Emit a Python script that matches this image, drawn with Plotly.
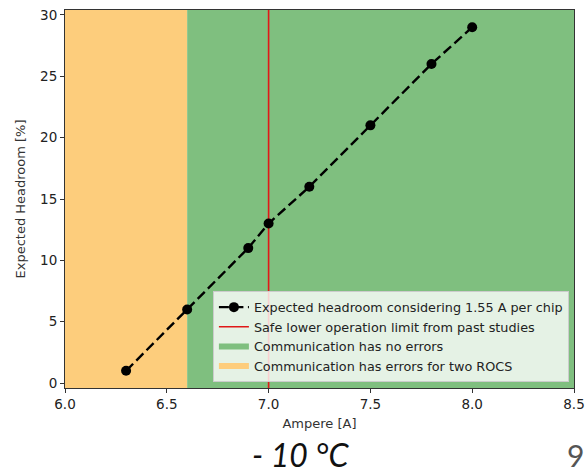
import plotly.graph_objects as go

# Data
ampere = [6.3, 6.6, 6.9, 7.0, 7.2, 7.5, 7.8, 8.0]
headroom = [1, 6, 11, 13, 16, 21, 26, 29]
safe_limit = 7.0
error_span = [6.0, 6.6]
ok_span = [6.6, 8.5]
x_range = [6.0, 8.5]
y_range = [-0.4, 30.4]
x_ticks = [6.0, 6.5, 7.0, 7.5, 8.0, 8.5]
y_ticks = [0, 5, 10, 15, 20, 25, 30]

fig = go.Figure()

def span_trace(span, color, name, rank):
    return go.Scatter(
        x=[span[0], span[1], span[1], span[0], span[0]],
        y=[y_range[0], y_range[0], y_range[1], y_range[1], y_range[0]],
        fill="toself", fillcolor=color, mode="none", name=name,
        legendrank=rank, hoverinfo="skip")

fig.add_trace(span_trace(error_span, "#FDCD7C", "Communication has errors for two ROCS", 4))
fig.add_trace(span_trace(ok_span, "#7FBF7F", "Communication has no errors", 3))

fig.add_trace(go.Scatter(
    x=[safe_limit, safe_limit], y=y_range, mode="lines",
    line=dict(color="#e01818", width=1.6),
    name="Safe lower operation limit from past studies", legendrank=2))

fig.add_trace(go.Scatter(
    x=ampere, y=headroom, mode="lines+markers",
    line=dict(color="black", width=2.4, dash="10px,4.5px"),
    marker=dict(color="black", size=10),
    name="Expected headroom considering 1.55 A per chip", legendrank=1))

axis_common = dict(
    showline=True, linecolor="#333", linewidth=1, mirror=True,
    ticks="outside", ticklen=4, tickcolor="#333", showgrid=False, zeroline=False,
    tickfont=dict(family="DejaVu Sans", size=13.5, color="#222"),
)

fig.update_xaxes(range=x_range, tickvals=x_ticks, ticktext=[f"{v:.1f}" for v in x_ticks],
                 title=dict(text="Ampere [A]", font=dict(family="DejaVu Sans", size=13, color="#333"), standoff=7),
                 **axis_common)
fig.update_yaxes(range=y_range, tickvals=y_ticks,
                 title=dict(text="Expected Headroom [%]", font=dict(family="DejaVu Sans", size=13, color="#333"), standoff=11),
                 **axis_common)

fig.update_layout(
    width=586, height=475,
    margin=dict(l=65, r=12, t=10, b=87, autoexpand=False),
    plot_bgcolor="white", paper_bgcolor="white",
    showlegend=True,
    legend=dict(x=0.99, y=0.015, xanchor="right", yanchor="bottom",
                bgcolor="rgba(255,255,255,0.8)", bordercolor="#ccc", borderwidth=1,
                font=dict(family="DejaVu Sans", size=12.8, color="#222"),
                tracegroupgap=0, itemwidth=30),
    annotations=[
        dict(text="<i>- 10 °C</i>", x=(300 - 65) / 509, xref="paper", y=(388 - 454) / 378, yref="paper",
             showarrow=False, font=dict(family="Lato", size=32, color="#111"),
             xanchor="center", yanchor="middle"),
        dict(text="9", x=(586 - 65) / 509, xref="paper", y=(388 - 455) / 378, yref="paper",
             showarrow=False, font=dict(family="Lato", size=30, color="#555"),
             xanchor="right", yanchor="middle"),
    ],
)

fig.write_html("out.html")
